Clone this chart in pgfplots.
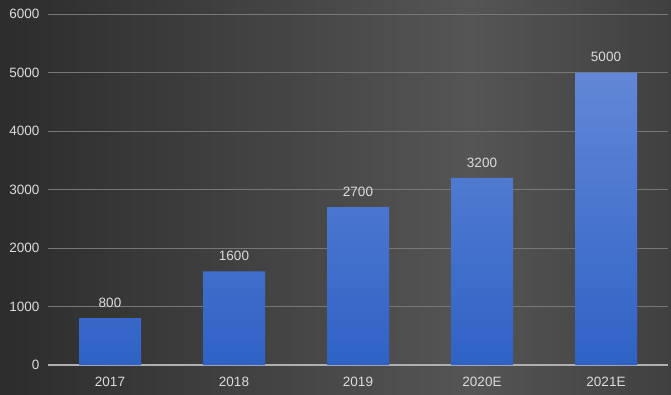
\documentclass[border=0pt]{standalone}
\usepackage{pgfplots}
\pgfplotsset{compat=1.18}
\usepackage{fontspec}
\setmainfont{Liberation Sans}
\definecolor{txt}{HTML}{DCDCDC}
\definecolor{gridc}{HTML}{777777}
\definecolor{zeroc}{HTML}{B0B0B0}
\definecolor{bartop}{HTML}{6287D6}
\definecolor{barbot}{HTML}{2F62C6}
\definecolor{bgl}{HTML}{2C2C2C}
\definecolor{bgm}{HTML}{555555}
\definecolor{bgr}{HTML}{404040}
\pgfdeclarehorizontalshading{bgshade}{100bp}{color(0bp)=(bgl); color(25bp)=(bgl); color(60bp)=(bgm); color(75bp)=(bgr); color(100bp)=(bgr)}
\begin{document}
\begin{tikzpicture}
\shade[shading=bgshade] (0pt,0pt) rectangle (671pt,394pt);
\begin{axis}[
  at={(48pt,29pt)}, anchor=south west,
  scale only axis, width=620pt, height=351pt,
  xmin=-0.5, xmax=4.5, ymin=0, ymax=6000,
  ybar, bar width=62pt,
  axis line style={draw=none},
  major tick style={draw=none},
  xtick={0,1,2,3,4},
  xticklabels={2017,2018,2019,2020E,2021E},
  ytick={0,1000,2000,3000,4000,5000,6000},
  ymajorgrids, grid style={draw=gridc, line width=0.8pt},
  extra y ticks={0}, extra y tick labels={},
  extra y tick style={tick style={draw=none}, grid style={draw=zeroc, line width=1.6pt}},
  /pgf/number format/assume math mode=true,
  /pgf/number format/1000 sep={},
  tick label style={font=\fontsize{13.5}{15}\selectfont, color=txt},
  yticklabel style={anchor=east, xshift=-5pt},
  xticklabel style={yshift=-4pt},
  nodes near coords,
  every node near coord/.append style={font=\fontsize{13.5}{15}\selectfont, color=txt, yshift=7pt},
  clip=false,
]
\addplot[draw=none, top color=bartop, bottom color=barbot] coordinates {(0,800) (1,1600) (2,2700) (3,3200) (4,5000)};
\end{axis}
\pgfresetboundingbox
\useasboundingbox (0pt,0pt) rectangle (671pt,394pt);
\end{tikzpicture}
\end{document}
